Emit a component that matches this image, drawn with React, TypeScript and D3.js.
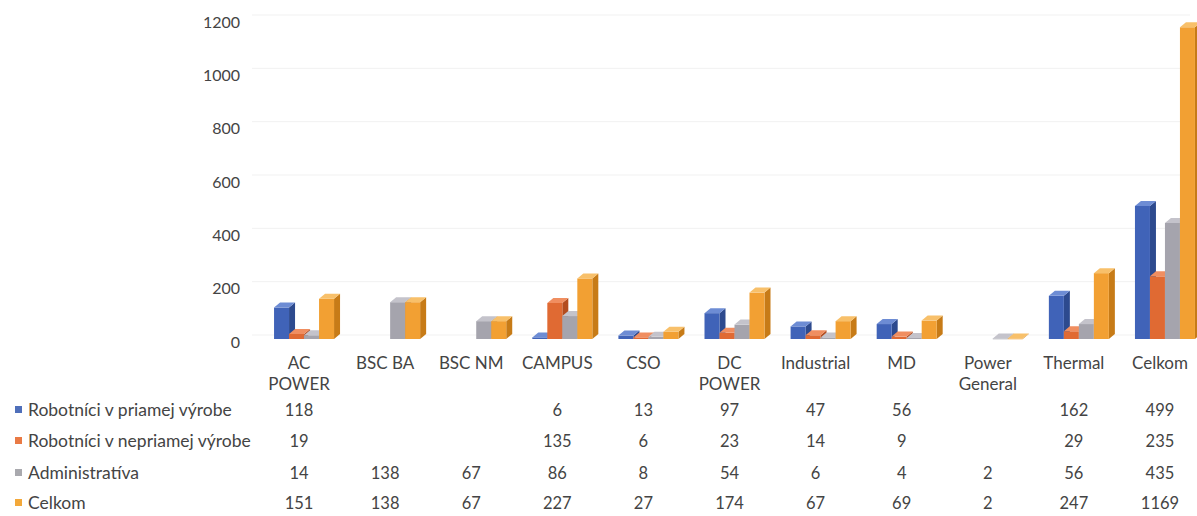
import React from "react";
import * as d3 from "d3";

const categories: string[][] = [
  ["AC", "POWER"], ["BSC BA"], ["BSC NM"], ["CAMPUS"], ["CSO"], ["DC", "POWER"],
  ["Industrial"], ["MD"], ["Power", "General"], ["Thermal"], ["Celkom"],
];
const seriesNames = [
  "Robotníci v priamej výrobe",
  "Robotníci v nepriamej výrobe",
  "Administratíva",
  "Celkom",
];
const priama: (number | null)[] = [118, null, null, 6, 13, 97, 47, 56, null, 162, 499];
const nepriama: (number | null)[] = [19, null, null, 135, 6, 23, 14, 9, null, 29, 235];
const administrativa: (number | null)[] = [14, 138, 67, 86, 8, 54, 6, 4, 2, 56, 435];
const celkom: (number | null)[] = [151, 138, 67, 227, 27, 174, 67, 69, 2, 247, 1169];
const yTicks = [0, 200, 400, 600, 800, 1000, 1200];

const seriesValues = [priama, nepriama, administrativa, celkom];
const colors = [
  { front: "#4063b8", side: "#2d4a8e", top: "#6d8cd4", legend: "#4f6fba" },
  { front: "#e06a33", side: "#b34c1f", top: "#f08e60", legend: "#e97a45" },
  { front: "#a5a4ad", side: "#7f7e88", top: "#c4c3cb", legend: "#a9a9ae" },
  { front: "#f2a033", side: "#c77b17", top: "#f8c06a", legend: "#f3a83a" },
];

const FONT = "Lato, 'Open Sans', sans-serif";
const TEXT = "#444444";

export default function App() {
  const W = 1197, H = 516;
  const x = d3.scaleBand<number>().domain(d3.range(categories.length)).range([256, 1203]);
  const y = d3.scaleLinear().domain([0, 1200]).range([342, 22]);
  const floor = 3;
  const bw = 15, dx = 6, dy = 5;
  const rowY = [410, 441, 473, 503];

  const bars: React.ReactNode[] = [];
  categories.forEach((_, ci) => {
    const c = (x(ci) as number) + x.bandwidth() / 2;
    seriesValues.forEach((vals, si) => {
      const v = vals[ci];
      if (v == null || v <= 0) return;
      const x0 = c - 25 + si * bw;
      const bottom = y(0) - floor;
      const top = y(v) - floor;
      const col = colors[si];
      bars.push(
        <g key={`b-${ci}-${si}`}>
          <polygon
            points={`${x0 + bw},${top} ${x0 + bw + dx},${top - dy} ${x0 + bw + dx},${bottom - dy} ${x0 + bw},${bottom}`}
            fill={col.side}
          />
          <rect x={x0} y={top} width={bw} height={Math.max(0.8, bottom - top)} fill={col.front} />
          <polygon
            points={`${x0},${top} ${x0 + dx},${top - dy} ${x0 + bw + dx},${top - dy} ${x0 + bw},${top}`}
            fill={col.top}
          />
        </g>
      );
    });
  });

  return (
    <>
      <style>{`body{margin:0;background:#fff}`}</style>
      <svg width={W} height={H} style={{ display: "block", fontFamily: FONT }}>
        <rect width={W} height={H} fill="#ffffff" />
        {yTicks.map((t) => (
          <line key={`g-${t}`} x1={252} x2={1190} y1={y(t) - floor - dy + 1} y2={y(t) - floor - dy + 1}
            stroke="#f1f1f1" strokeWidth={1} />
        ))}
        {yTicks.map((t) => (
          <text key={`t-${t}`} x={240} y={y(t)} dy="0.35em" textAnchor="end" fontSize={16} fill={TEXT}>
            {t}
          </text>
        ))}
        {bars}
        {categories.map((lines, ci) => {
          const c = (x(ci) as number) + x.bandwidth() / 2;
          return (
            <text key={`c-${ci}`} x={c} y={363} textAnchor="middle" fontSize={17} fill={TEXT}>
              {lines.map((l, li) => (
                <tspan key={li} x={c} dy={li === 0 ? "0.35em" : 21}>{l}</tspan>
              ))}
            </text>
          );
        })}
        {seriesNames.map((name, si) => (
          <g key={`l-${si}`}>
            <rect x={15} y={rowY[si] - 4} width={7} height={7} fill={colors[si].legend} />
            <text x={28} y={rowY[si]} dy="0.35em" fontSize={17.5} fill={TEXT}>{name}</text>
            {seriesValues[si].map((v, ci) =>
              v == null ? null : (
                <text key={ci} x={(x(ci) as number) + x.bandwidth() / 2} y={rowY[si]} dy="0.35em"
                  textAnchor="middle" fontSize={16.5} fill={TEXT}>{v}</text>
              )
            )}
          </g>
        ))}
      </svg>
    </>
  );
}
